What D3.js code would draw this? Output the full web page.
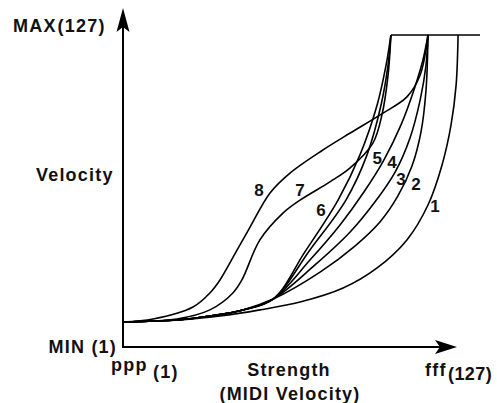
<!DOCTYPE html>
<html lang="en">
<head>
<meta charset="UTF-8">
<title>Velocity Curves</title>
<script src="https://d3js.org/d3.v7.min.js"></script>
<style>
    body {
        margin: 0;
        background: #fff;
    }
    svg {
        display: block;
        font-family: 'Liberation Sans', Arial, sans-serif;
        font-weight: bold;
    }
    .axis-text {
        font-size: 18px;
        letter-spacing: 1.2px;
        fill: #111;
    }
    .curve {
        fill: none;
        stroke: #000;
        stroke-width: 1.6;
    }
    .curve-label {
        font-size: 17px;
        text-anchor: middle;
        fill: #111;
    }
</style>
</head>
<body>
<svg width="497" height="403"></svg>
<script>
    // strength (x) / velocity (y), both on a 0..127 scale
    const curveNames = ["1", "2", "3", "4", "5", "6", "7", "8"];

    const curve1 = [[0, 10.2], [20.3, 11.0], [34.5, 12.6], [48.7, 15.1], [63.0, 18.3], [78.3, 24.0],
        [90.4, 32.2], [101.0, 43.6], [108.5, 57.8], [113.5, 74.1], [116.7, 90.4], [118.5, 106.6], [119.2, 127]];
    const curve2 = [[0, 10.2], [19.2, 11.0], [30.9, 12.6], [42.7, 15.1], [53.4, 19.5],
        [70.1, 30.5], [82.5, 41.1], [91.4, 50.9], [97.8, 61.5], [102.8, 73.7], [106.0, 87.5], [107.8, 104.6], [108.5, 127]];
    const curve3 = [[0, 10.2], [19.2, 11.0], [30.9, 12.6], [42.7, 15.1], [53.4, 19.5],
        [68.3, 33.4], [80.8, 46.8], [89.6, 59.0], [96.8, 71.2], [102.1, 85.1], [105.7, 100.5], [107.8, 114.8], [108.5, 127]];
    const curve4 = [[0, 10.2], [19.2, 11.0], [30.9, 12.6], [42.7, 15.1], [53.4, 19.5],
        [66.5, 35.4], [77.2, 49.7], [85.7, 63.1], [92.8, 76.1], [98.9, 90.4], [103.5, 104.6], [106.7, 116.8], [108.5, 127]];
    const curve5 = [[0, 10.2], [19.2, 11.0], [30.9, 12.6], [42.7, 15.1], [53.4, 19.5],
        [66.5, 39.5], [79.3, 59.8], [86.8, 78.2], [91.8, 98.5], [94.3, 114.8], [95.3, 127]];
    const curve6 = [[0, 10.2], [19.2, 11.0], [30.9, 12.6], [42.7, 15.1], [53.4, 19.5],
        [64.7, 38.7], [76.5, 59.8], [84.3, 78.2], [90.4, 98.5], [93.6, 114.8], [95.3, 127]];
    const curve7 = [[0, 10.2], [19.2, 11.4], [30.9, 15.1], [39.1, 22.0], [42.3, 27.3], [48.7, 43.6],
        [56.9, 54.5], [63.0, 59.8], [73.6, 67.2], [80.8, 72.9], [88.9, 83.0], [92.1, 94.4], [94.3, 110.7], [95.3, 127]];
    const curve8 = [[0, 10.2], [10.7, 11.4], [24.9, 16.3], [30.9, 22.0], [34.5, 27.3], [40.6, 39.5],
        [45.2, 48.8], [52.3, 62.7], [59.4, 70.8], [71.1, 80.2], [80.8, 87.1], [92.5, 95.2], [101.0, 101.8],
        [105.7, 110.7], [108.5, 127]];

    // saturation line at MAX
    const maxLine = [[95.3, 127], [127, 127]];

    // where each curve number sits
    const labelPoints = [[111.0, 57.4], [104.2, 66.3], [98.9, 68.4], [95.7, 75.3],
        [90.4, 76.9], [70.4, 55.8], [63.0, 63.9], [48.4, 63.9]];

    const curves = [curve1, curve2, curve3, curve4, curve5, curve6, curve7, curve8];

    const svg = d3.select("svg");

    const x = d3.scaleLinear().domain([0, 127]).range([123, 480]);
    const y = d3.scaleLinear().domain([0, 127]).range([347, 35]);

    const line = d3.line()
        .x(d => x(d[0]))
        .y(d => y(d[1]))
        .curve(d3.curveCatmullRom.alpha(0.5));

    // axes with arrow heads
    const x0 = x(0), y0 = y(0);
    const xTip = 457, yTip = 8;

    svg.append("line")
        .attr("x1", x0).attr("y1", y0)
        .attr("x2", x0).attr("y2", yTip + 12)
        .attr("stroke", "#000").attr("stroke-width", 2);
    svg.append("line")
        .attr("x1", x0 - 1).attr("y1", y0)
        .attr("x2", xTip - 12).attr("y2", y0)
        .attr("stroke", "#000").attr("stroke-width", 2);

    svg.append("path")
        .attr("d", `M${x0},${yTip} L${x0 + 6.5},${yTip + 24} L${x0},${yTip + 19} L${x0 - 6.5},${yTip + 24} Z`)
        .attr("fill", "#000");
    svg.append("path")
        .attr("d", `M${xTip},${y0} L${xTip - 22},${y0 + 7} L${xTip - 17},${y0} L${xTip - 22},${y0 - 7} Z`)
        .attr("fill", "#000");

    // curves
    svg.selectAll(".curve")
        .data(curves)
        .enter()
        .append("path")
        .attr("class", "curve")
        .attr("d", line);

    svg.append("path")
        .attr("class", "curve")
        .attr("d", d3.line().x(d => x(d[0])).y(d => y(d[1]))(maxLine));

    svg.selectAll(".curve-label")
        .data(curveNames)
        .enter()
        .append("text")
        .attr("class", "curve-label")
        .attr("x", (d, i) => x(labelPoints[i][0]))
        .attr("y", (d, i) => y(labelPoints[i][1]))
        .attr("dy", "0.36em")
        .text(d => d);

    // axis texts
    const maxText = svg.append("text").attr("class", "axis-text")
        .attr("x", 13).attr("y", 32);
    maxText.append("tspan").text("MAX");
    maxText.append("tspan").attr("dx", 1).text("(127)");

    svg.append("text").attr("class", "axis-text")
        .attr("x", 117).attr("y", 353)
        .attr("text-anchor", "end")
        .text("MIN (1)");

    svg.append("text").attr("class", "axis-text")
        .attr("x", 36).attr("y", 181)
        .text("Velocity");

    svg.append("text").attr("class", "axis-text")
        .attr("x", 111).attr("y", 371)
        .text("ppp");
    svg.append("text").attr("class", "axis-text")
        .attr("x", 153).attr("y", 378)
        .text("(1)");

    svg.append("text").attr("class", "axis-text")
        .attr("x", 289).attr("y", 376)
        .attr("text-anchor", "middle")
        .text("Strength");
    svg.append("text").attr("class", "axis-text")
        .attr("x", 290).attr("y", 400)
        .attr("text-anchor", "middle")
        .text("(MIDI Velocity)");

    svg.append("text").attr("class", "axis-text")
        .attr("x", 425).attr("y", 376)
        .text("fff");
    svg.append("text").attr("class", "axis-text")
        .attr("x", 448).attr("y", 380)
        .style("letter-spacing", "0.4px")
        .text("(127)");
</script>
</body>
</html>
